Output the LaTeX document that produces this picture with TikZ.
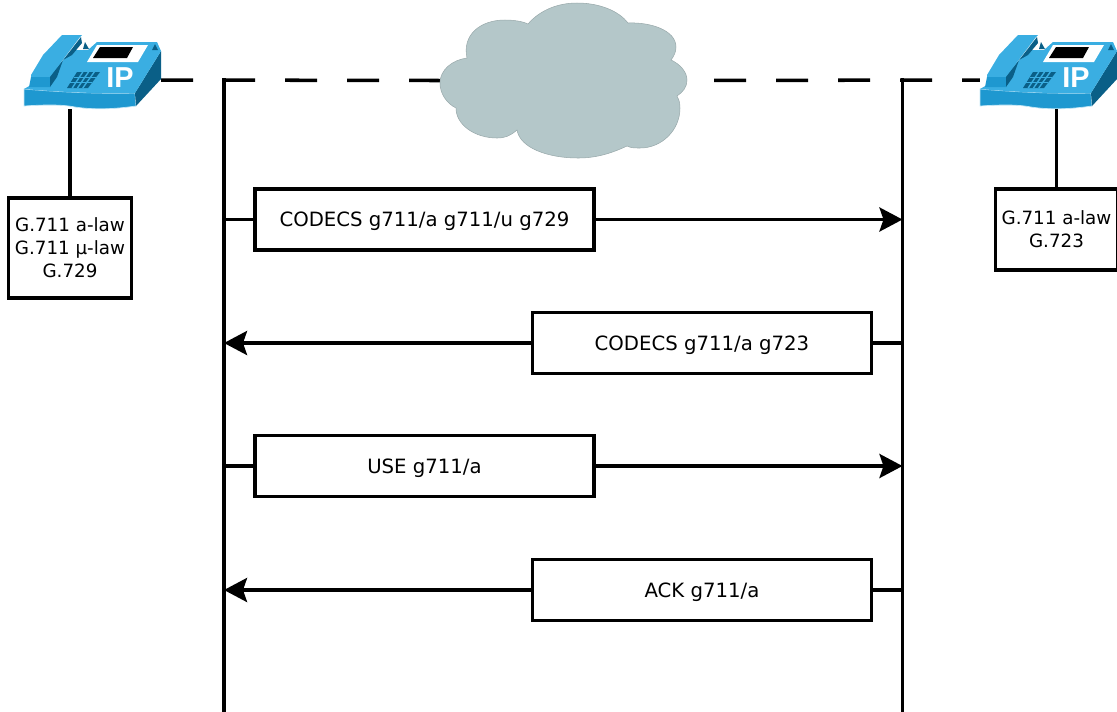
\documentclass[tikz,border=0pt]{standalone}
\usepackage{fontspec}
\setmainfont{DejaVu Sans}
\newfontfamily\ipfont{Liberation Sans}
\usetikzlibrary{arrows.meta}
\definecolor{phonelight}{HTML}{3AAEE2}
\definecolor{phonemid}{HTML}{1E98D0}
\definecolor{phonedark}{HTML}{0A5F87}
\definecolor{cloudgrey}{HTML}{B4C7C9}
\tikzset{
  msgline/.style={line width=1pt},
  msgarrow/.style={msgline, ->, >={Stealth[length=2.3mm,width=2.4mm,inset=0.4mm]}},
  wanline/.style={msgline, dash pattern=on 0.32cm off 0.30cm},
  msgbox/.style={draw, msgline, fill=white, minimum width=3.39cm, minimum height=0.61cm, text depth=0pt, font=\fontsize{5.6}{7}\selectfont},
  codecbox/.style={draw, msgline, fill=white, align=center, inner sep=0pt, font=\fontsize{5.2}{6.5}\selectfont},
  spot/.style={inner sep=0pt, outer sep=0pt},
  pics/ipphone/.style={code={
    \fill[phonemid, draw=white!70!phonelight, line width=0.2pt] (24,89) .. controls (60,92) and (100,94) .. (135,93) -- (136,106) .. controls (115,109) and (95,110) .. (75,107) .. controls (60,104) and (40,105) .. (24,106) -- cycle;
    \fill[phonedark] (135,93) -- (161,51) -- (161,79) -- (136,106) -- cycle;
    \fill[phonelight] (24,89) -- (31,85) -- (50,75) -- (72,50) -- (88,50) -- (97,42) -- (157,42) -- (161,51) -- (135,93) .. controls (100,94) and (60,92) .. (24,89) -- cycle;
    \fill[phonelight] (62,35) -- (82,35) -- (80,37) -- (50,77) -- (31,77) -- (31,75) -- (43,55) -- cycle;
    \fill[phonemid] (31,77) -- (50,77) -- (50,87) -- (29,87) -- cycle;
    \fill[phonedark] (81,37) -- (82,43) -- (72,55) -- (63,60) -- (57,77) -- (50,87) -- (50,77) -- cycle;
    \fill[phonedark] (85,42) -- (89,49) -- (83,49) -- cycle;
    \fill[phonedark] (155,44) -- (158,50) -- (152,50) -- cycle;
    \fill[white] (97,45) -- (148,45) -- (138,62) -- (87,62) -- cycle;
    \fill[black] (100,47) -- (133,47) -- (127,58) -- (93,58) -- cycle;
    \fill[phonedark] (77,72) -- (100,72) -- (88,88) -- (67,88) -- cycle;
    \foreach \k in {1,2} \draw[phonelight, line width=0.4pt] (77-\k*3.3,72+\k*16/3) -- (100-\k*4,72+\k*16/3);
    \foreach \k in {1,2,3} \draw[phonelight, line width=0.4pt] (77+\k*5.75,72) -- (67+\k*5.25,88);
    \node[spot, text=white, font=\ipfont\bfseries\fontsize{8.2}{9}\selectfont] (-ip) at (120,77.5) {IP};
  }}
}

\begin{document}
\begin{tikzpicture}[x=0.01cm,y=-0.01cm]

\useasboundingbox (0,0) rectangle (1117,711);

\coordinate (lifeLtop) at (224,80);
\coordinate (lifeLend) at (224,711);
\coordinate (lifeRtop) at (902.5,80);
\coordinate (lifeRend) at (902.5,711);

\node[spot, minimum width=1.37cm, minimum height=0.58cm] (phoneL) at (92.5,80) {};
\node[spot, minimum width=1.37cm, minimum height=0.58cm] (phoneR) at (1048.5,80) {};
\node[spot, minimum width=2.47cm, minimum height=1.55cm] (cloud) at (563.5,80.5) {};

\draw[wanline] (phoneL.east) -- (cloud.west);
\draw[wanline, dash phase=0.35cm] (cloud.east) -- (phoneR.west);
\draw[msgline, line cap=rect] (lifeLtop) -- (lifeLend);
\draw[msgline, line cap=rect] (lifeRtop) -- (lifeRend);

\fill[cloudgrey, draw=cloudgrey!85!black, line width=0.15pt] (467,58)
  .. controls (462,35) and (480,20) .. (505,20) .. controls (512,20) and (522,21) .. (528,24)
  .. controls (540,10) and (558,3) .. (577,3) .. controls (598,3) and (618,10) .. (628,23)
  .. controls (650,22) and (676,30) .. (676,47) .. controls (676,52) and (674,56) .. (671,60)
  .. controls (680,64) and (687,72) .. (687,80) .. controls (687,87) and (683,92) .. (677,96)
  .. controls (680,102) and (680,104) .. (680,108) .. controls (680,130) and (662,148) .. (640,148)
  .. controls (635,148) and (631,148) .. (627,146) .. controls (612,153) and (597,158) .. (578,158)
  .. controls (548,158) and (520,148) .. (517,130) .. controls (510,136) and (505,138) .. (497,138)
  .. controls (475,138) and (456,125) .. (456,108) .. controls (446,103) and (440,93) .. (440,83)
  .. controls (440,70) and (452,60) .. (467,58) -- cycle;

\pic (iconL) at (0,0) {ipphone};
\pic (iconR) at (956,0) {ipphone};

\node[codecbox, minimum width=1.23cm, minimum height=1.00cm] (codecL) at (70,248) {G.711 a-law\\G.711 µ-law\\G.729};
\draw[msgline] (codecL.north) -- (codecL.north |- phoneL.south);

\node[codecbox, minimum width=1.22cm, minimum height=0.81cm] (codecR) at (1056.5,229.5) {G.711 a-law\\G.723};
\draw[msgline] (codecR.north) -- (codecR.north |- phoneR.south);

\node[msgbox] (offer) at (424.5,219.5) {CODECS g711/a g711/u g729};
\draw[msgline] (lifeLtop |- offer.west) -- (offer.west);
\draw[msgarrow] (offer.east) -- (lifeRtop |- offer.east);

\node[msgbox] (answer) at (702,343) {CODECS g711/a g723};
\draw[msgline] (lifeRtop |- answer.east) -- (answer.east);
\draw[msgarrow] (answer.west) -- (lifeLtop |- answer.west);

\node[msgbox] (use) at (424.5,466) {USE g711/a};
\draw[msgline] (lifeLtop |- use.west) -- (use.west);
\draw[msgarrow] (use.east) -- (lifeRtop |- use.east);

\node[msgbox] (ack) at (702,590) {ACK g711/a};
\draw[msgline] (lifeRtop |- ack.east) -- (ack.east);
\draw[msgarrow] (ack.west) -- (lifeLtop |- ack.west);

\end{tikzpicture}
\end{document}
